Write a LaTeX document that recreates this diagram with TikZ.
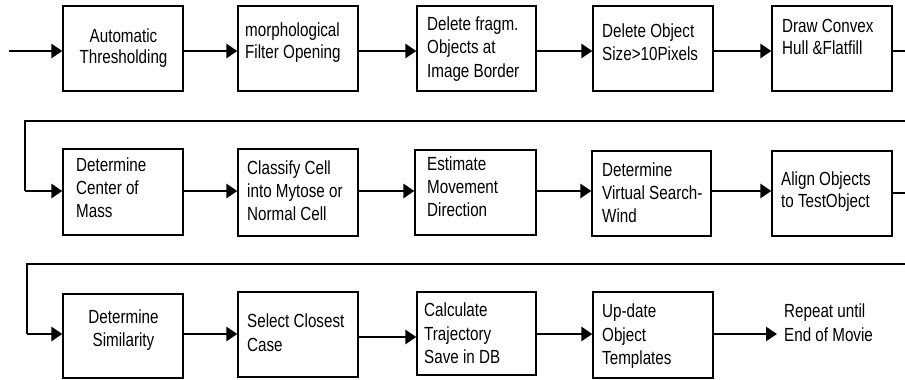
\documentclass[tikz,border=0pt]{standalone}
\usepackage{fontspec}
\setmainfont[FakeStretch=0.8]{Liberation Sans}
\usetikzlibrary{arrows.meta}
\newcommand{\tlft}[2][23.5pt]{\vtop{\baselineskip=#1\lineskiplimit=-30pt\halign{##\hfil\cr#2\crcr}}}
\newcommand{\tctr}[2][23.5pt]{\vtop{\baselineskip=#1\lineskiplimit=-30pt\halign{\hfil##\hfil\cr#2\crcr}}}
\tikzset{
  box/.style={draw, line width=1.3pt, minimum width=120pt, minimum height=85pt, inner sep=0pt},
  txt/.style={inner sep=0pt, font=\fontsize{19pt}{23.5pt}\selectfont},
  arr/.style={line width=2.8pt, -{Triangle[length=11pt,width=14pt]}},
  fb/.style={line width=1.6pt}
}
\begin{document}
\begin{tikzpicture}[x=1pt,y=-1pt]
\useasboundingbox (0,0) rectangle (905,380);
% row 1
\node[box] (b1) at (123,48.5) {};
\node[box] (b2) at (298,48.5) {};
\node[box, minimum width=119pt] (b3) at (476.5,48.5) {};
\node[box] (b4) at (653,48.5) {};
\node[box] (b5) at (832,48.5) {};
\node[txt, anchor=base] (t1) at (123.5,42) {\tctr[21pt]{Automatic\cr Thresholding}};
\node[txt, anchor=base west] (t2) at (245,36) {\tlft[22pt]{morphological\cr Filter Opening}};
\node[txt, anchor=base west] (t3) at (427,30.5) {\tlft{Delete fragm.\cr Objects at\cr Image Border}};
\node[txt, anchor=base west] (t4) at (602,37) {\tlft{Delete Object\cr Size>10Pixels}};
\node[txt, anchor=base west] (t5) at (782,32) {\tlft[22pt]{Draw Convex\cr Hull \&Flatfill}};
% row 2
\node[box, minimum height=86pt] (b6) at (123,192) {};
\node[box, minimum height=87pt] (b7) at (298,192.5) {};
\node[box, minimum width=121pt] (b8) at (475.5,192.5) {};
\node[box, minimum width=119pt] (b9) at (651.5,193.5) {};
\node[box] (b10) at (832,193.5) {};
\node[txt, anchor=base west] (t6) at (76,171) {\tlft[23pt]{Determine\cr Center of\cr Mass}};
\node[txt, anchor=base west] (t7) at (247,174) {\tlft[23pt]{Classify Cell\cr into Mytose or\cr Normal Cell}};
\node[txt, anchor=base west] (t8) at (427,170.7) {\tlft[23pt]{Estimate\cr Movement\cr Direction}};
\node[txt, anchor=base west] (t9) at (602,176.7) {\tlft[23pt]{Determine\cr Virtual Search-\cr Wind}};
\node[txt, anchor=base west] (t10) at (781,185) {\tlft[22pt]{Align Objects\cr to TestObject}};
% row 3
\node[box, minimum height=84pt] (b11) at (123,336) {};
\node[box] (b12) at (298,334.5) {};
\node[box, minimum width=119pt, minimum height=83pt] (b13) at (476.5,333.5) {};
\node[box, minimum height=86pt] (b14) at (653,335) {};
\node[txt, anchor=base] (t11) at (123.5,323.3) {\tctr{Determine\cr Similarity}};
\node[txt, anchor=base west] (t12) at (247,327.3) {\tlft[24pt]{Select Closest\cr Case}};
\node[txt, anchor=base west] (t13) at (424,316.7) {\tlft{Calculate\cr Trajectory\cr Save in DB}};
\node[txt, anchor=base west] (t14) at (602,317.7) {\tlft{Up-date\cr Object\cr Templates}};
\node[txt, anchor=base west] (rep) at (784,317.7) {\tlft{Repeat until\cr End of Movie}};
% coordinates
\coordinate (in) at (9,51);
\coordinate (o1) at (905,51);
\coordinate (f1r) at (905,121);
\coordinate (f1l) at (25,121);
\coordinate (f1b) at (25,191);
\coordinate (o2) at (905,193);
\coordinate (f2r) at (905,264);
\coordinate (f2l) at (27,264);
\coordinate (f2b) at (27,334);
\coordinate (repin) at (777,334);
% row 1 connectors
\draw[arr] (in) -- (b1.west |- in);
\draw[arr] (b1.east |- 0,51) -- (b2.west |- 0,51);
\draw[arr] (b2.east |- 0,51) -- (b3.west |- 0,51);
\draw[arr] (b3.east |- 0,51) -- (b4.west |- 0,51);
\draw[arr] (b4.east |- 0,51) -- (b5.west |- 0,51);
\draw[fb] (b5.east |- o1) -- (o1);
% row 2 connectors
\draw[fb] (f1r) -- (f1l) -- (f1b);
\draw[arr] (f1b) -- (b6.west |- f1b);
\draw[arr] (b6.east |- 0,191) -- (b7.west |- 0,191);
\draw[arr] (b7.east |- 0,191) -- (b8.west |- 0,191);
\draw[arr] (b8.east |- 0,191) -- (b9.west |- 0,191);
\draw[arr] (b9.east |- 0,191) -- (b10.west |- 0,191);
\draw[fb] (b10.east |- o2) -- (o2);
% row 3 connectors
\draw[fb] (f2r) -- (f2l) -- (f2b);
\draw[arr] (f2b) -- (b11.west |- f2b);
\draw[arr] (b11.east |- 0,334) -- (b12.west |- 0,334);
\draw[arr] (b12.east |- 0,337) -- (b13.west |- 0,337);
\draw[arr] (b13.east |- 0,334) -- (b14.west |- 0,334);
\draw[arr] (b14.east |- repin) -- (repin);
\end{tikzpicture}
\end{document}
